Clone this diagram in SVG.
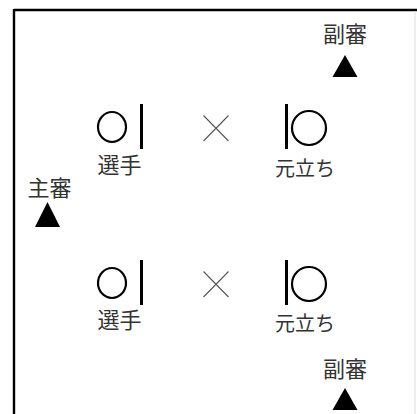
<svg xmlns="http://www.w3.org/2000/svg" width="417" height="414" viewBox="0 0 417 414">
<style>
.lbl{font-family:"Noto Sans CJK JP","Liberation Sans",sans-serif;font-size:22px;fill:#333;text-anchor:middle}
.lbl3{font-size:20px}
.ring{fill:none;stroke:#000;stroke-width:2.2}
.bar{fill:#000}
.x{stroke:#555;stroke-width:1.1;fill:none}
.tri{fill:#000}
</style>
<rect width="417" height="414" fill="#fff"/>
<g id="frame">
<line x1="14" y1="10" x2="417" y2="10" stroke="#000" stroke-width="2.4"/>
<line x1="14" y1="9" x2="14" y2="414" stroke="#000" stroke-width="2.4"/>
<line x1="415" y1="11" x2="415" y2="414" stroke="#ddd" stroke-width="1"/>
</g>
<g id="senshu1">
<ellipse class="ring" cx="112" cy="127" rx="14" ry="15"/>
<rect class="bar" x="140" y="104" width="3" height="45"/>
<text class="lbl" x="119.5" y="173">選手</text>
</g>
<g id="cross1"><path class="x" d="M203.5 115.5L228.5 141M228.5 115.5L203.5 141"/></g>
<g id="motodachi1">
<rect class="bar" x="285" y="104" width="3" height="45"/>
<circle class="ring" cx="309" cy="128" r="17"/>
<text class="lbl lbl3" x="305" y="176">元立ち</text>
</g>
<g id="senshu2">
<ellipse class="ring" cx="112" cy="283" rx="14" ry="15"/>
<rect class="bar" x="140" y="260" width="3" height="45"/>
<text class="lbl" x="119.5" y="328">選手</text>
</g>
<g id="cross2"><path class="x" d="M203.5 271.5L228.5 297M228.5 271.5L203.5 297"/></g>
<g id="motodachi2">
<rect class="bar" x="285" y="260" width="3" height="45"/>
<circle class="ring" cx="309" cy="284" r="17"/>
<text class="lbl lbl3" x="305" y="331">元立ち</text>
</g>
<g id="shushin">
<text class="lbl" x="49.5" y="196">主審</text>
<polygon class="tri" points="47.5,202 35,227 60,227"/>
</g>
<g id="fukushin1">
<text class="lbl" x="345" y="42">副審</text>
<polygon class="tri" points="345,55 332.5,77 357.5,77"/>
</g>
<g id="fukushin2">
<text class="lbl" x="345" y="377">副審</text>
<polygon class="tri" points="345,388 332.5,410 357.5,410"/>
</g>
<g id="connectors"/>
</svg>
